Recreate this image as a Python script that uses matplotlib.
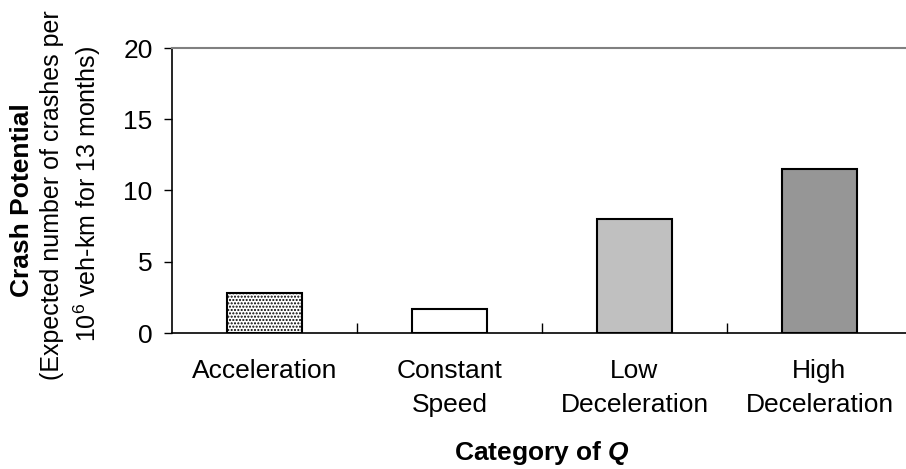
import matplotlib
matplotlib.use('Agg')
import matplotlib.pyplot as plt
import numpy as np

plt.rcParams['font.family'] = ['Liberation Sans', 'DejaVu Sans']
plt.rcParams['mathtext.fontset'] = 'custom'
plt.rcParams['mathtext.rm'] = 'Liberation Sans'
plt.rcParams['mathtext.it'] = 'Liberation Sans:italic:bold'
plt.rcParams['mathtext.bf'] = 'Liberation Sans:bold'
plt.rcParams['hatch.color'] = '#444444'
plt.rcParams['hatch.linewidth'] = 1.0

# Data
categories = ['Acceleration', 'Constant\nSpeed', 'Low\nDeceleration', 'High\nDeceleration']
crash_potential = [2.8, 1.7, 8.0, 11.5]
bar_colors = ['white', 'white', '#C0C0C0', '#969696']
bar_hatches = ['.....', '', '', '']
y_ticks = [0, 5, 10, 15, 20]

FS = 19
FS_Y = 18

fig = plt.figure(figsize=(9.06, 4.69), dpi=100)
ax = fig.add_axes([172 / 906, 1 - 333 / 469, 740 / 906, 285 / 469])

x = np.arange(len(categories))
for xi, val, col, h in zip(x, crash_potential, bar_colors, bar_hatches):
    ax.bar(xi, val, width=0.41, color=col, edgecolor='black', linewidth=1.5, hatch=h, zorder=3)

ax.set_xlim(-0.5, len(categories) - 0.5)
ax.set_ylim(0, 20)
ax.set_yticks(y_ticks)
ax.set_yticklabels([str(t) for t in y_ticks], fontsize=FS)

# category labels centred, ticks at category boundaries
ax.set_xticks(x)
ax.set_xticklabels(categories, fontsize=FS, linespacing=1.5)
ax.tick_params(axis='x', which='major', length=0, pad=19)
ax.set_xticks(np.arange(0.5, len(categories) - 0.5, 1), minor=True)
ax.tick_params(axis='x', which='minor', direction='in', length=7, width=1, color='black')
ax.tick_params(axis='y', direction='out', length=6, width=1, pad=8)

ax.spines['right'].set_visible(False)
ax.spines['top'].set_color('#808080')
ax.spines['top'].set_linewidth(1.5)
ax.spines['left'].set_linewidth(1.2)
ax.spines['bottom'].set_linewidth(1.2)

ax.set_xlabel('Category of $Q$', fontsize=FS, fontweight='bold', labelpad=16)

# three-line y label
fig.text(22 / 906, 1 - 200 / 469, 'Crash Potential', rotation=90, fontsize=FS,
         fontweight='bold', ha='center', va='center')
fig.text(52 / 906, 1 - 195 / 469, '(Expected number of crashes per', rotation=90,
         fontsize=FS_Y, ha='center', va='center')
fig.text(87 / 906, 1 - 194 / 469, '10$^{6}$ veh-km for 13 months)', rotation=90,
         fontsize=FS_Y, ha='center', va='center')

fig.savefig('out.png', dpi=100)
